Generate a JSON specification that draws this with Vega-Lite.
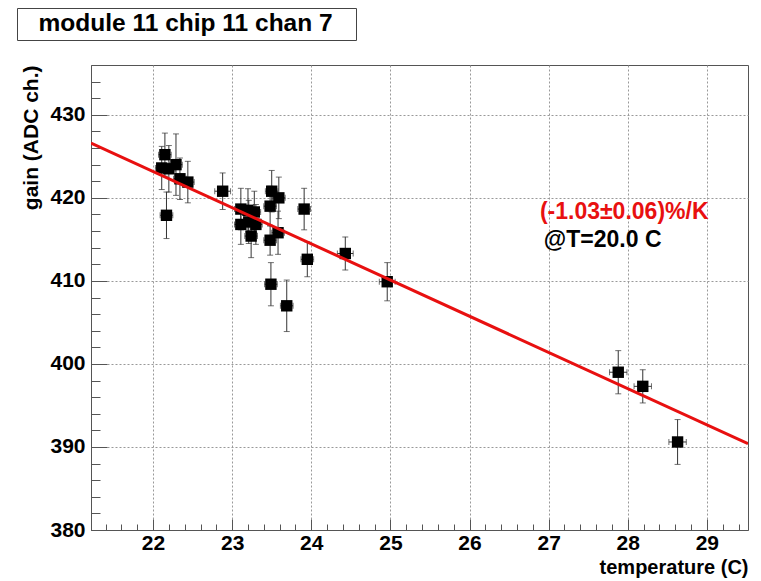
{
  "$schema": "https://vega.github.io/schema/vega-lite/v6.json",
  "width": 657,
  "height": 465,
  "autosize": {"type": "none"},
  "padding": {"left": 91, "top": 65, "right": 13, "bottom": 51},
  "background": "white",
  "datasets": {
    "pts": [
      {"t": 22.11, "terr": 0.08, "g": 423.6, "gerr": 2.6},
      {"t": 22.15, "terr": 0.08, "g": 425.2, "gerr": 2.6},
      {"t": 22.20, "terr": 0.08, "g": 423.5, "gerr": 2.8},
      {"t": 22.29, "terr": 0.08, "g": 424.0, "gerr": 3.7},
      {"t": 22.34, "terr": 0.08, "g": 422.3, "gerr": 2.5},
      {"t": 22.44, "terr": 0.08, "g": 421.9, "gerr": 2.5},
      {"t": 22.17, "terr": 0.08, "g": 417.9, "gerr": 2.8},
      {"t": 22.88, "terr": 0.10, "g": 420.8, "gerr": 2.2},
      {"t": 23.11, "terr": 0.08, "g": 418.65, "gerr": 2.5},
      {"t": 23.20, "terr": 0.08, "g": 418.5, "gerr": 2.6},
      {"t": 23.28, "terr": 0.08, "g": 418.3, "gerr": 2.5},
      {"t": 23.11, "terr": 0.08, "g": 416.8, "gerr": 2.4},
      {"t": 23.21, "terr": 0.08, "g": 417.1, "gerr": 2.6},
      {"t": 23.30, "terr": 0.08, "g": 416.8, "gerr": 2.4},
      {"t": 23.24, "terr": 0.08, "g": 415.4, "gerr": 2.6},
      {"t": 23.48, "terr": 0.08, "g": 414.9, "gerr": 1.8},
      {"t": 23.50, "terr": 0.08, "g": 420.8, "gerr": 2.5},
      {"t": 23.59, "terr": 0.08, "g": 420.0, "gerr": 2.5},
      {"t": 23.48, "terr": 0.08, "g": 419.0, "gerr": 2.4},
      {"t": 23.58, "terr": 0.08, "g": 415.8, "gerr": 2.6},
      {"t": 23.91, "terr": 0.08, "g": 418.65, "gerr": 2.5},
      {"t": 23.95, "terr": 0.08, "g": 412.6, "gerr": 2.1},
      {"t": 23.49, "terr": 0.08, "g": 409.6, "gerr": 2.6},
      {"t": 23.69, "terr": 0.08, "g": 407.0, "gerr": 3.1},
      {"t": 24.43, "terr": 0.10, "g": 413.3, "gerr": 2.0},
      {"t": 24.96, "terr": 0.10, "g": 409.9, "gerr": 2.3},
      {"t": 27.88, "terr": 0.11, "g": 399.0, "gerr": 2.6},
      {"t": 28.19, "terr": 0.11, "g": 397.3, "gerr": 2.0},
      {"t": 28.63, "terr": 0.11, "g": 390.6, "gerr": 2.7}
    ],
    "fit": [
      {"t": 21.216, "g": 426.6},
      {"t": 29.52, "g": 390.4}
    ],
    "notes": [
      {"t": 26.89, "g": 418.3, "label": "(-1.03±0.06)%/K", "kind": "slope"},
      {"t": 26.94, "g": 414.9, "label": "@T=20.0 C", "kind": "ref"}
    ]
  },
  "resolve": {"axis": {"x": "independent", "y": "independent"}},
  "layer": [
    {
      "layer": [
        {
          "data": {"name": "pts"},
          "mark": {"type": "errorbar", "ticks": {"size": 6}, "color": "#333333", "thickness": 1},
          "encoding": {
            "x": {"field": "t", "type": "quantitative"},
            "y": {"field": "g", "type": "quantitative"},
            "yError": {"field": "gerr"}
          }
        },
        {
          "data": {"name": "pts"},
          "mark": {"type": "errorbar", "ticks": {"size": 6}, "color": "#333333", "thickness": 1},
          "encoding": {
            "y": {"field": "g", "type": "quantitative"},
            "x": {"field": "t", "type": "quantitative"},
            "xError": {"field": "terr"}
          }
        },
        {
          "data": {"name": "pts"},
          "mark": {"type": "point", "shape": "square", "filled": true, "color": "black", "size": 130, "opacity": 1},
          "encoding": {
            "x": {"field": "t", "type": "quantitative"},
            "y": {"field": "g", "type": "quantitative"}
          }
        },
        {
          "data": {"name": "fit"},
          "mark": {"type": "line", "color": "#e81010", "strokeWidth": 3, "clip": true},
          "encoding": {
            "x": {"field": "t", "type": "quantitative"},
            "y": {"field": "g", "type": "quantitative"}
          }
        },
        {
          "data": {"name": "notes"},
          "mark": {"type": "text", "align": "left", "baseline": "middle", "font": "Liberation Sans", "fontWeight": "bold", "fontSize": 23},
          "encoding": {
            "x": {"field": "t", "type": "quantitative"},
            "y": {"field": "g", "type": "quantitative"},
            "text": {"field": "label"},
            "color": {"field": "kind", "type": "nominal", "scale": {"domain": ["slope", "ref"], "range": ["#e81010", "black"]}, "legend": null}
          }
        }
      ],
      "encoding": {
        "x": {
          "type": "quantitative",
          "scale": {"domain": [21.216, 29.52], "nice": false, "zero": false},
          "axis": {
            "orient": "bottom",
            "values": [22, 23, 24, 25, 26, 27, 28, 29],
            "title": "temperature (C)",
            "titleAnchor": "end",
            "titleAlign": "right",
            "titleFont": "Liberation Sans",
            "titleFontWeight": "bold",
            "titleFontSize": 20,
            "titleColor": "black",
            "titlePadding": 4,
            "labelFont": "Liberation Sans",
            "labelFontWeight": "bold",
            "labelFontSize": 21,
            "labelColor": "black",
            "labelPadding": 13,
            "tickSize": -11,
            "tickColor": "#555555",
            "domainColor": "#555555",
            "grid": true,
            "gridDash": [2, 2],
            "gridColor": "#999999",
            "gridWidth": 1
          }
        },
        "y": {
          "type": "quantitative",
          "scale": {"domain": [380, 436], "nice": false, "zero": false},
          "axis": {
            "orient": "left",
            "values": [380, 390, 400, 410, 420, 430],
            "title": "gain (ADC ch.)",
            "titleAnchor": "end",
            "titleFont": "Liberation Sans",
            "titleFontWeight": "bold",
            "titleFontSize": 21,
            "titleColor": "black",
            "titlePadding": 8,
            "labelFont": "Liberation Sans",
            "labelFontWeight": "bold",
            "labelFontSize": 21,
            "labelColor": "black",
            "labelPadding": 22,
            "tickSize": -16,
            "tickColor": "#555555",
            "domainColor": "#555555",
            "grid": true,
            "gridDash": [2, 2],
            "gridColor": "#999999",
            "gridWidth": 1
          }
        }
      }
    },
    {
      "data": {"name": "pts"},
      "mark": {"type": "point", "opacity": 0},
      "encoding": {
        "x": {
          "field": "t",
          "type": "quantitative",
          "axis": {
            "orient": "bottom",
            "values": [21.4, 21.6, 21.8, 22.2, 22.4, 22.6, 22.8, 23.2, 23.4, 23.6, 23.8, 24.2, 24.4, 24.6, 24.8, 25.2, 25.4, 25.6, 25.8, 26.2, 26.4, 26.6, 26.8, 27.2, 27.4, 27.6, 27.8, 28.2, 28.4, 28.6, 28.8, 29.2, 29.4],
            "labels": false,
            "grid": false,
            "domain": false,
            "title": null,
            "tickSize": -6,
            "tickColor": "#555555"
          }
        },
        "y": {
          "field": "g",
          "type": "quantitative",
          "axis": {
            "orient": "left",
            "values": [382, 384, 386, 388, 392, 394, 396, 398, 402, 404, 406, 408, 412, 414, 416, 418, 422, 424, 426, 428, 432, 434],
            "labels": false,
            "grid": false,
            "domain": false,
            "title": null,
            "tickSize": -9,
            "tickColor": "#555555"
          }
        },
        "shape": {
          "datum": "module 11 chip 11 chan 7",
          "type": "nominal",
          "legend": {
            "orient": "none",
            "legendX": -74,
            "legendY": -57,
            "title": " ",
            "titleOrient": "right",
            "titlePadding": 19,
            "titleFontSize": 24,
            "strokeColor": "#444444",
            "fillColor": "white",
            "padding": 4,
            "symbolSize": 0,
            "symbolOpacity": 0,
            "labelOffset": -7,
            "labelFont": "Liberation Sans",
            "labelFontWeight": "bold",
            "labelFontSize": 24.5,
            "labelColor": "black",
            "labelLimit": 500
          }
        }
      }
    }
  ],
  "config": {
    "view": {"stroke": "#555555", "strokeWidth": 1}
  }
}
